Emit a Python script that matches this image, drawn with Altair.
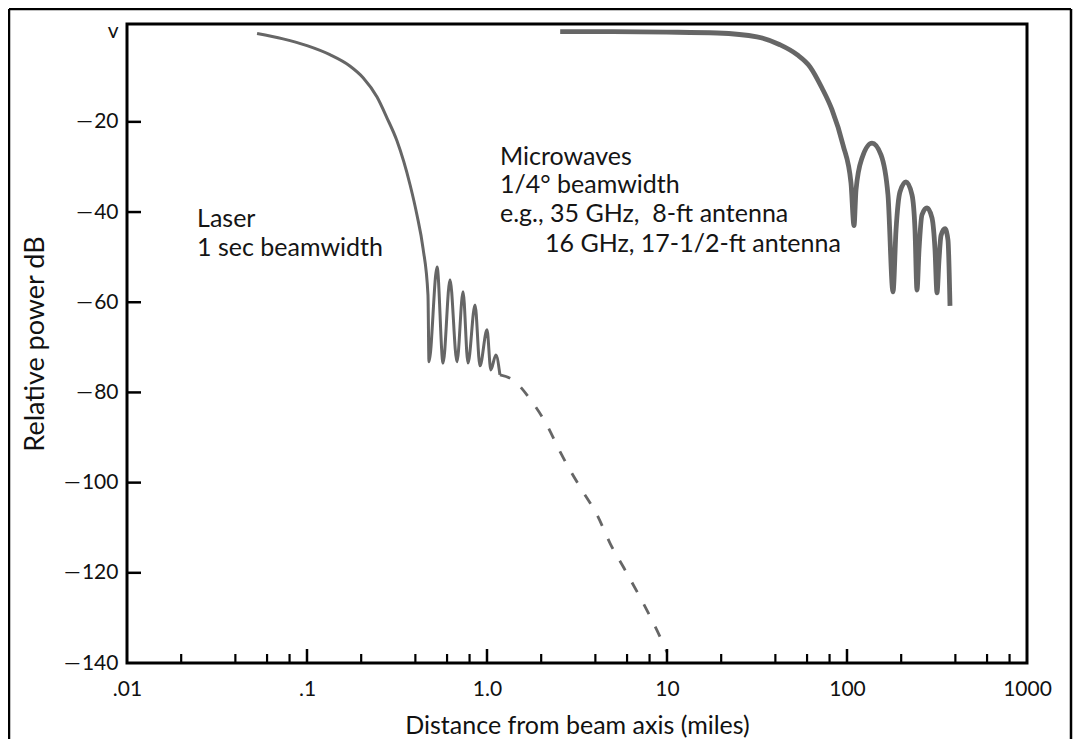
import altair as alt
import pandas as pd

# ---------------- data ----------------
# Microwaves, 1/4 deg beamwidth: distance (miles) / relative power (dB)
mw_x = [2.55, 5.0, 10.0, 19.0, 31.6, 42.4, 52.8, 62.3, 72.6, 82.5, 95.0, 105.2, 109.4,
        112.2, 121.2, 137.7, 154.5, 168.9, 180.1,
        187.2, 197.0, 212.7, 229.7, 238.7, 244.8,
        251.2, 261.0, 278.3, 296.6, 308.3, 316.2,
        324.4, 332.9, 350.4, 363.9, 373.4]
mw_y = [0.0, 0.0, -0.1, -0.3, -1.15, -2.9, -5.1, -7.8, -12.5, -17.3, -25.1, -33.5, -43.0,
        -35.1, -28.0, -24.7, -27.3, -36.2, -57.7,
        -44.0, -35.5, -33.3, -36.2, -44.0, -57.3,
        -48.4, -40.6, -39.1, -41.3, -48.4, -57.9,
        -50.6, -45.2, -43.7, -46.2, -60.8]

# Laser, 1 sec beamwidth: main lobe and first sidelobes (solid)
laser_x = [0.0528, 0.0736, 0.100, 0.134, 0.173, 0.205, 0.245, 0.278, 0.316, 0.374,
           0.408, 0.441, 0.470, 0.476, 0.528, 0.570, 0.623, 0.681, 0.736, 0.784,
           0.858, 0.914, 1.00, 1.05, 1.12, 1.18]
laser_y = [-0.4, -1.6, -3.1, -5.1, -7.6, -10.2, -14.5, -19.1, -24.2, -34.0,
           -40.6, -48.0, -58.4, -73.2, -52.2, -73.5, -55.0, -73.2, -57.7, -73.5,
           -60.6, -74.1, -66.1, -75.0, -71.7, -76.1]

# Laser far sidelobes (drawn broken)
tail_x = [1.18, 1.39, 1.78, 2.15, 2.55, 2.89, 3.29, 4.14, 4.82, 5.85, 7.08, 8.25, 9.50, 10.0]
tail_y = [-76.1, -77.2, -82.1, -87.2, -93.2, -97.2, -101.0, -107.6, -113.4, -119.4,
          -125.4, -130.5, -135.6, -137.6]

# axis ticks and labels
x_major = [0.01, 0.1, 1.0, 10.0, 100.0, 1000.0]
x_labels = [".01", ".1", "1.0", "10", "100", "1000"]
x_inner_major = [0.1, 1.0, 10.0, 100.0]
x_minor = [0.02, 0.04, 0.06, 0.08, 0.2, 0.4, 0.6, 0.8, 2, 4, 6, 8,
           20, 40, 60, 80, 200, 400, 600, 800]
y_values = [0, -20, -40, -60, -80, -100, -120, -140]
y_ticks = [-20, -40, -60, -80, -100, -120]

# annotations
ann_text = ["Laser", "1 sec beamwidth", "Microwaves", "1/4\u00b0 beamwidth",
            "e.g., 35 GHz,\u00a0 8-ft antenna", "16 GHz, 17-1/2-ft antenna"]
ann_x = [0.0245, 0.0245, 1.181, 1.181, 1.181, 2.10]
ann_y = [-41.5, -47.9, -27.8, -34.0, -40.4, -47.1]

# ---------------- chart ----------------
W, H = 900, 639
FONT = "Lato"
LINE = "#666666"

x_scale = alt.Scale(type="log", domain=[0.01, 1000], nice=False)
y_scale = alt.Scale(domain=[-140, 1.7], nice=False, zero=False)

# label expression built from the label lists
expr = "'" + x_labels[-1] + "'"
for v, lab in reversed(list(zip(x_major[:-1], x_labels[:-1]))):
    expr = f"datum.value < {v * 3.16:.4f} ? '{lab}' : " + expr

mw_df = pd.DataFrame({"x": mw_x, "y": mw_y, "o": list(range(len(mw_x)))})
laser_df = pd.DataFrame({"x": laser_x, "y": laser_y, "o": list(range(len(laser_x)))})
tail_df = pd.DataFrame({"x": tail_x, "y": tail_y, "o": list(range(len(tail_x)))})

x_axis = alt.Axis(values=x_major, labelExpr=expr, labelFlush=False, labelOverlap=False,
                  labelPadding=15, labelFontSize=21,
                  titleFontSize=25, titleX=W / 2, titleY=62, titleBaseline="middle",
                  titleAlign="center")
y_axis = alt.Axis(values=y_values,
                  labelExpr="datum.value == 0 ? 'v' : '\u2014\u200a' + abs(datum.value)",
                  labelPadding=9, labelFontSize=21,
                  titleFontSize=27, titleX=-92, titleY=H / 2, titleAngle=-90,
                  titleBaseline="middle", titleAlign="center")

X = alt.X("x:Q", scale=x_scale, axis=x_axis, title="Distance from beam axis (miles)")
Y = alt.Y("y:Q", scale=y_scale, axis=y_axis, title="Relative power dB")

mw_line = alt.Chart(mw_df).mark_line(color=LINE, strokeWidth=4.8, interpolate="monotone").encode(
    x=X, y=Y, order="o:Q")

laser_line = alt.Chart(laser_df).mark_line(color=LINE, strokeWidth=3.0, interpolate="monotone").encode(
    x=X, y=Y, order="o:Q")

tail_line = alt.Chart(tail_df).mark_line(color=LINE, strokeWidth=2.8, strokeDash=[11, 14],
                                          interpolate="monotone").encode(
    x=X, y=Y, order="o:Q")

ytick = alt.Chart(pd.DataFrame({"y": y_ticks})).mark_rule(color="black", strokeWidth=2.5).encode(
    y=Y, x=alt.value(0), x2=alt.value(14))
xtick_major = alt.Chart(pd.DataFrame({"x": x_inner_major})).mark_rule(color="black", strokeWidth=2.5).encode(
    x=X, y=alt.value(H), y2=alt.value(H - 14))
xtick_minor = alt.Chart(pd.DataFrame({"x": x_minor})).mark_rule(color="black", strokeWidth=2.2).encode(
    x=X, y=alt.value(H), y2=alt.value(H - 9))

ann = alt.Chart(pd.DataFrame({"t": ann_text, "x": ann_x, "y": ann_y})).mark_text(
    align="left", baseline="middle", font=FONT, fontSize=25, color="#151515"
).encode(x=X, y=Y, text="t:N")

# scan frame around the whole figure
one = pd.DataFrame({"a": [0]})
frame_left = alt.Chart(one).mark_rule(color="black", strokeWidth=2.5).encode(
    x=alt.value(-118), y=alt.value(-15), y2=alt.value(H + 76))
frame_right = alt.Chart(one).mark_rule(color="black", strokeWidth=2.5).encode(
    x=alt.value(944), y=alt.value(-15), y2=alt.value(H + 76))
frame_top = alt.Chart(one).mark_rule(color="black", strokeWidth=2.5).encode(
    x=alt.value(-118), x2=alt.value(944), y=alt.value(-15))

chart = alt.layer(
    mw_line, laser_line, tail_line, ytick, xtick_major, xtick_minor, ann,
    frame_left, frame_right, frame_top
).properties(
    width=W, height=H,
    autosize=alt.AutoSizeParams(type="none"),
    padding={"left": 119, "top": 16, "right": 46, "bottom": 76},
    background="white",
).configure_view(
    stroke="black", strokeWidth=3
).configure_axis(
    grid=False, domain=False, ticks=False, tickSize=0,
    labelFont=FONT, labelColor="#111111",
    titleFont=FONT, titleFontWeight="normal", titleColor="#111111",
)

chart.save("out.html", embed_options={"renderer": "svg", "actions": False})
